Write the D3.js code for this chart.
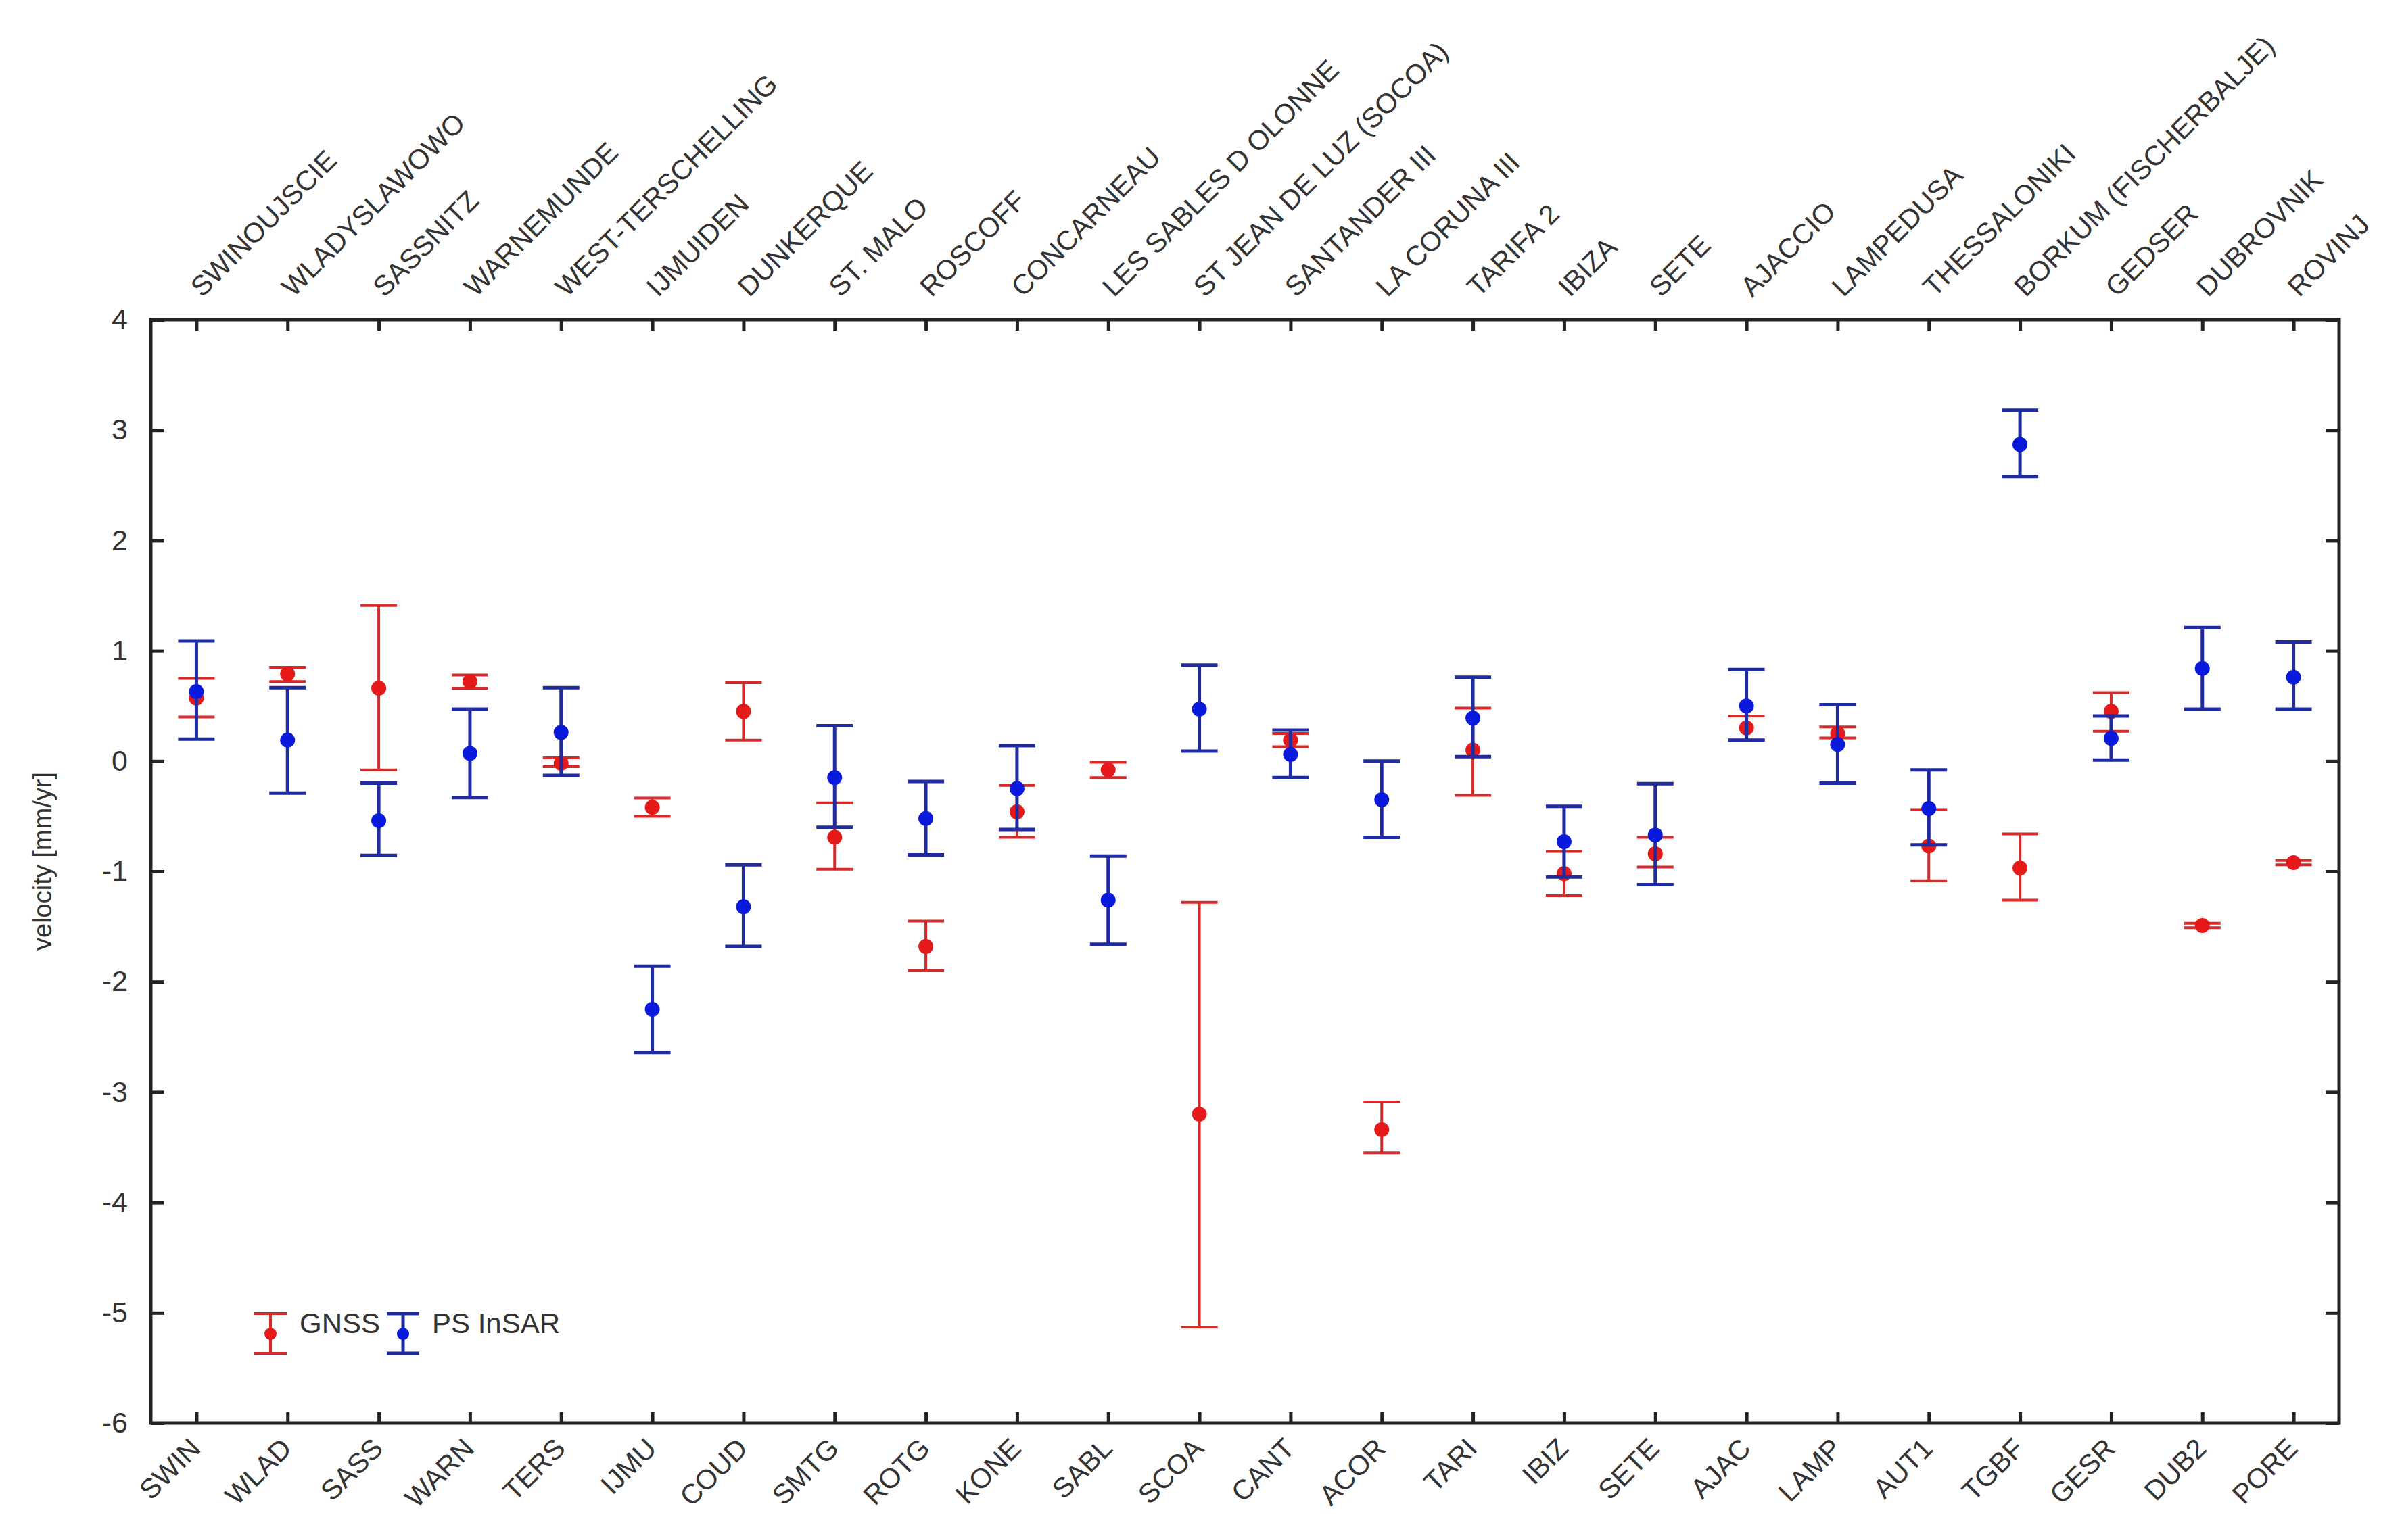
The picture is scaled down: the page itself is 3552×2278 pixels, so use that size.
<!DOCTYPE html>
<html>
<head>
<meta charset="utf-8">
<script src="https://cdn.jsdelivr.net/npm/d3@7"></script>
<style>
  html, body { margin: 0; padding: 0; background: #fff; }
  text { font-family: "Liberation Sans", Arial, sans-serif; fill: #333; }
</style>
</head>
<body>
<div id="chart"></div>
<script>
var codes = ["SWIN", "WLAD", "SASS", "WARN", "TERS", "IJMU", "COUD", "SMTG", "ROTG", "KONE", "SABL", "SCOA",
  "CANT", "ACOR", "TARI", "IBIZ", "SETE", "AJAC", "LAMP", "AUT1", "TGBF", "GESR", "DUB2", "PORE"];
var names = ["SWINOUJSCIE", "WLADYSLAWOWO", "SASSNITZ", "WARNEMUNDE", "WEST-TERSCHELLING", "IJMUIDEN",
  "DUNKERQUE", "ST. MALO", "ROSCOFF", "CONCARNEAU", "LES SABLES D OLONNE", "ST JEAN DE LUZ (SOCOA)",
  "SANTANDER III", "LA CORUNA III", "TARIFA 2", "IBIZA", "SETE", "AJACCIO", "LAMPEDUSA", "THESSALONIKI",
  "BORKUM (FISCHERBALJE)", "GEDSER", "DUBROVNIK", "ROVINJ"];

// GNSS velocity and error bar limits [mm/yr]
var gnssValue = [0.57, 0.79, 0.66, 0.72, -0.02, -0.42, 0.45, -0.69, -1.68, -0.46, -0.08, -3.20,
  0.19, -3.34, 0.10, -1.02, -0.84, 0.30, 0.25, -0.77, -0.97, 0.45, -1.49, -0.92];
var gnssLow = [0.40, 0.72, -0.08, 0.66, -0.05, -0.50, 0.19, -0.98, -1.90, -0.69, -0.15, -5.13,
  0.13, -3.55, -0.31, -1.22, -0.96, 0.19, 0.21, -1.085, -1.26, 0.27, -1.51, -0.94];
var gnssHigh = [0.75, 0.85, 1.41, 0.78, 0.03, -0.335, 0.71, -0.38, -1.45, -0.22, -0.01, -1.28,
  0.25, -3.09, 0.48, -0.82, -0.69, 0.41, 0.31, -0.44, -0.66, 0.62, -1.47, -0.90];

// PS InSAR velocity and error bar limits [mm/yr]
var insarValue = [0.63, 0.19, -0.54, 0.07, 0.26, -2.25, -1.32, -0.15, -0.52, -0.25, -1.26, 0.47,
  0.06, -0.35, 0.39, -0.73, -0.67, 0.50, 0.15, -0.43, 2.87, 0.205, 0.84, 0.76];
var insarLow = [0.20, -0.29, -0.855, -0.33, -0.13, -2.64, -1.68, -0.60, -0.85, -0.62, -1.66, 0.09,
  -0.15, -0.69, 0.04, -1.05, -1.12, 0.19, -0.20, -0.76, 2.58, 0.01, 0.47, 0.47];
var insarHigh = [1.09, 0.665, -0.20, 0.47, 0.665, -1.86, -0.94, 0.32, -0.185, 0.14, -0.86, 0.87,
  0.28, 0.00, 0.76, -0.41, -0.205, 0.83, 0.51, -0.08, 3.18, 0.41, 1.21, 1.08];

var yTicks = [-6, -5, -4, -3, -2, -1, 0, 1, 2, 3, 4];

var W = 3552, H = 2278;
var margin = { top: 473, right: 93, bottom: 173, left: 223 };
var width = W - margin.left - margin.right;
var height = H - margin.top - margin.bottom;

var red = { bar: "#d42a2a", dot: "#e51919", width: 4 };
var blue = { bar: "#1f2b9e", dot: "#0a1adc", width: 5 };
var capHalf = 27;
var dotR = 11;

var svg = d3
  .select("#chart")
  .append("svg")
  .attr("width", W)
  .attr("height", H)
  .style("background", "#fff")
  .append("g")
  .attr("transform", "translate(" + margin.left + "," + margin.top + ")");

var x = d3.scalePoint().domain(codes).range([0, width]).padding(0.5);
var y = d3.scaleLinear().domain([-6, 4]).range([height, 0]);

function styleAxis(g) {
  g.select(".domain").remove();
  g.selectAll(".tick line").attr("stroke", "#222").attr("stroke-width", 5);
  g.selectAll(".tick text").style("font-size", "43px").attr("fill", "#333");
}

svg
  .append("g")
  .call(
    d3.axisLeft(y).tickValues(yTicks).tickSize(-20).tickSizeOuter(0).tickPadding(34)
      .tickFormat(function (d) { return String(d); })
  )
  .call(styleAxis);

svg
  .append("g")
  .attr("transform", "translate(" + width + ",0)")
  .call(d3.axisRight(y).tickValues(yTicks).tickSize(-20).tickSizeOuter(0).tickFormat(""))
  .call(styleAxis);

svg
  .append("g")
  .attr("transform", "translate(0," + height + ")")
  .call(d3.axisBottom(x).tickSize(-16).tickSizeOuter(0))
  .call(styleAxis)
  .selectAll(".tick text")
  .attr("text-anchor", "end")
  .attr("x", 0)
  .attr("y", 0)
  .attr("dy", 0)
  .attr("transform", "translate(8,40) rotate(-45)")
  .style("font-size", "41px");

svg
  .append("g")
  .call(
    d3.axisTop(x).tickSize(-16).tickSizeOuter(0).tickFormat(function (d, i) {
      return names[i];
    })
  )
  .call(styleAxis)
  .selectAll(".tick text")
  .attr("text-anchor", "start")
  .attr("x", 0)
  .attr("y", 0)
  .attr("dy", 0)
  .attr("transform", "translate(8,-32) rotate(-45)")
  .style("font-size", "41px");

svg
  .append("rect")
  .attr("width", width)
  .attr("height", height)
  .attr("fill", "none")
  .attr("stroke", "#222")
  .attr("stroke-width", 5);

svg
  .append("text")
  .attr("transform", "rotate(-90)")
  .attr("x", -height / 2 + 15)
  .attr("y", -margin.left + 76)
  .attr("text-anchor", "middle")
  .style("font-size", "38px")
  .text("velocity [mm/yr]");

function drawSeries(values, low, high, st) {
  var g = svg.append("g");
  codes.forEach(function (c, i) {
    var cx = x(c);
    g.append("line")
      .attr("x1", cx).attr("x2", cx)
      .attr("y1", y(low[i])).attr("y2", y(high[i]))
      .attr("stroke", st.bar).attr("stroke-width", st.width);
    [low[i], high[i]].forEach(function (v) {
      g.append("line")
        .attr("x1", cx - capHalf).attr("x2", cx + capHalf)
        .attr("y1", y(v)).attr("y2", y(v))
        .attr("stroke", st.bar).attr("stroke-width", st.width);
    });
    g.append("circle")
      .attr("cx", cx).attr("cy", y(values[i]))
      .attr("r", dotR)
      .attr("fill", st.dot);
  });
}

drawSeries(gnssValue, gnssLow, gnssHigh, red);
drawSeries(insarValue, insarLow, insarHigh, blue);

// legend
function legendItem(lx, ly, st, label) {
  var g = svg.append("g").attr("transform", "translate(" + lx + "," + ly + ")");
  g.append("line").attr("x1", 0).attr("x2", 0).attr("y1", -30).attr("y2", 29)
    .attr("stroke", st.bar).attr("stroke-width", st.width);
  [-30, 29].forEach(function (dy) {
    g.append("line").attr("x1", -24).attr("x2", 24).attr("y1", dy).attr("y2", dy)
      .attr("stroke", st.bar).attr("stroke-width", st.width);
  });
  g.append("circle").attr("r", 9).attr("fill", st.dot);
  g.append("text")
    .attr("x", 43)
    .attr("y", -12)
    .attr("dominant-baseline", "middle")
    .style("font-size", "42px")
    .text(label);
}

legendItem(400 - margin.left, 1973 - margin.top, red, "GNSS");
legendItem(596 - margin.left, 1973 - margin.top, blue, "PS InSAR");
</script>
</body>
</html>
